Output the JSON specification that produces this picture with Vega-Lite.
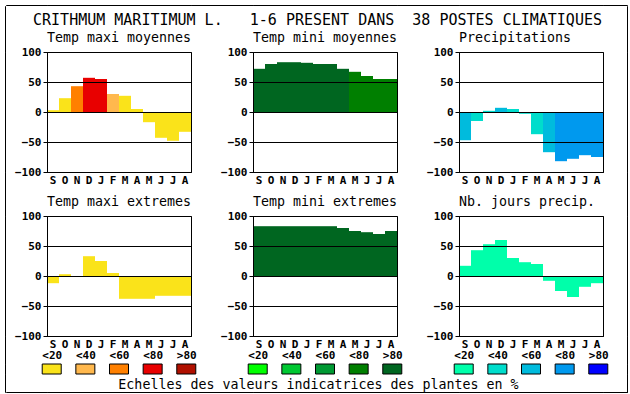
{
  "$schema": "https://vega.github.io/schema/vega-lite/v6.json",
  "background": "white",
  "padding": {"left": 4, "top": 4, "right": 4, "bottom": 3},
  "config": {
    "font": "DejaVu Sans Mono",
    "view": {"stroke": null},
    "axis": {
      "labelFont": "DejaVu Sans Mono",
      "labelFontWeight": "bold",
      "labelFontSize": 11,
      "labelColor": "black",
      "tickColor": "black",
      "domainColor": "black",
      "gridColor": "black",
      "gridOpacity": 1,
      "labelFlush": false,
      "labelOverlap": false
    },
    "title": {
      "font": "DejaVu Sans Mono",
      "fontSize": 13.3,
      "fontWeight": "normal",
      "color": "black",
      "anchor": "start",
      "frame": "group",
      "offset": 2
    }
  },
  "datasets": {
    "none": [],
    "bars": [
      {"p": "tmaxm", "m": "Sep", "v": 3, "c": "T1"},
      {"p": "tmaxm", "m": "Oct", "v": 23, "c": "T1"},
      {"p": "tmaxm", "m": "Nov", "v": 43, "c": "T3"},
      {"p": "tmaxm", "m": "Dec", "v": 57, "c": "T4"},
      {"p": "tmaxm", "m": "Jan", "v": 55, "c": "T4"},
      {"p": "tmaxm", "m": "Feb", "v": 30, "c": "T2"},
      {"p": "tmaxm", "m": "Mar", "v": 27, "c": "T1"},
      {"p": "tmaxm", "m": "Apr", "v": 5, "c": "T1"},
      {"p": "tmaxm", "m": "May", "v": -17, "c": "T1"},
      {"p": "tmaxm", "m": "Jun", "v": -43, "c": "T1"},
      {"p": "tmaxm", "m": "Jul", "v": -48, "c": "T1"},
      {"p": "tmaxm", "m": "Aug", "v": -33, "c": "T1"},
      {"p": "tminm", "m": "Sep", "v": 72, "c": "M5"},
      {"p": "tminm", "m": "Oct", "v": 80, "c": "M5"},
      {"p": "tminm", "m": "Nov", "v": 83, "c": "M5"},
      {"p": "tminm", "m": "Dec", "v": 83, "c": "M5"},
      {"p": "tminm", "m": "Jan", "v": 82, "c": "M5"},
      {"p": "tminm", "m": "Feb", "v": 80, "c": "M5"},
      {"p": "tminm", "m": "Mar", "v": 80, "c": "M5"},
      {"p": "tminm", "m": "Apr", "v": 72, "c": "M5"},
      {"p": "tminm", "m": "May", "v": 67, "c": "M4"},
      {"p": "tminm", "m": "Jun", "v": 60, "c": "M4"},
      {"p": "tminm", "m": "Jul", "v": 55, "c": "M4"},
      {"p": "tminm", "m": "Aug", "v": 55, "c": "M4"},
      {"p": "prec", "m": "Sep", "v": -47, "c": "P3"},
      {"p": "prec", "m": "Oct", "v": -15, "c": "P2"},
      {"p": "prec", "m": "Nov", "v": 2, "c": "P2"},
      {"p": "prec", "m": "Dec", "v": 7, "c": "P3"},
      {"p": "prec", "m": "Jan", "v": 5, "c": "P2"},
      {"p": "prec", "m": "Feb", "v": -3, "c": "P2"},
      {"p": "prec", "m": "Mar", "v": -37, "c": "P2"},
      {"p": "prec", "m": "Apr", "v": -67, "c": "P3"},
      {"p": "prec", "m": "May", "v": -82, "c": "P4"},
      {"p": "prec", "m": "Jun", "v": -78, "c": "P4"},
      {"p": "prec", "m": "Jul", "v": -72, "c": "P4"},
      {"p": "prec", "m": "Aug", "v": -75, "c": "P4"},
      {"p": "tmaxe", "m": "Sep", "v": -12, "c": "T1"},
      {"p": "tmaxe", "m": "Oct", "v": 3, "c": "T1"},
      {"p": "tmaxe", "m": "Nov", "v": 0, "c": "T1"},
      {"p": "tmaxe", "m": "Dec", "v": 33, "c": "T1"},
      {"p": "tmaxe", "m": "Jan", "v": 25, "c": "T1"},
      {"p": "tmaxe", "m": "Feb", "v": 5, "c": "T1"},
      {"p": "tmaxe", "m": "Mar", "v": -38, "c": "T1"},
      {"p": "tmaxe", "m": "Apr", "v": -38, "c": "T1"},
      {"p": "tmaxe", "m": "May", "v": -38, "c": "T1"},
      {"p": "tmaxe", "m": "Jun", "v": -33, "c": "T1"},
      {"p": "tmaxe", "m": "Jul", "v": -33, "c": "T1"},
      {"p": "tmaxe", "m": "Aug", "v": -33, "c": "T1"},
      {"p": "tmine", "m": "Sep", "v": 83, "c": "M5"},
      {"p": "tmine", "m": "Oct", "v": 83, "c": "M5"},
      {"p": "tmine", "m": "Nov", "v": 83, "c": "M5"},
      {"p": "tmine", "m": "Dec", "v": 83, "c": "M5"},
      {"p": "tmine", "m": "Jan", "v": 83, "c": "M5"},
      {"p": "tmine", "m": "Feb", "v": 83, "c": "M5"},
      {"p": "tmine", "m": "Mar", "v": 83, "c": "M5"},
      {"p": "tmine", "m": "Apr", "v": 80, "c": "M5"},
      {"p": "tmine", "m": "May", "v": 75, "c": "M5"},
      {"p": "tmine", "m": "Jun", "v": 73, "c": "M5"},
      {"p": "tmine", "m": "Jul", "v": 70, "c": "M5"},
      {"p": "tmine", "m": "Aug", "v": 75, "c": "M5"},
      {"p": "njp", "m": "Sep", "v": 17, "c": "P1"},
      {"p": "njp", "m": "Oct", "v": 43, "c": "P1"},
      {"p": "njp", "m": "Nov", "v": 53, "c": "P1"},
      {"p": "njp", "m": "Dec", "v": 60, "c": "P1"},
      {"p": "njp", "m": "Jan", "v": 30, "c": "P1"},
      {"p": "njp", "m": "Feb", "v": 23, "c": "P1"},
      {"p": "njp", "m": "Mar", "v": 20, "c": "P1"},
      {"p": "njp", "m": "Apr", "v": -8, "c": "P1"},
      {"p": "njp", "m": "May", "v": -25, "c": "P1"},
      {"p": "njp", "m": "Jun", "v": -35, "c": "P1"},
      {"p": "njp", "m": "Jul", "v": -18, "c": "P1"},
      {"p": "njp", "m": "Aug", "v": -12, "c": "P1"}
    ],
    "leg": [
      {"g": "T", "lab": "<20", "c": "T1"},
      {"g": "T", "lab": "<40", "c": "T2"},
      {"g": "T", "lab": "<60", "c": "T3"},
      {"g": "T", "lab": "<80", "c": "T4"},
      {"g": "T", "lab": ">80", "c": "T5"},
      {"g": "M", "lab": "<20", "c": "M1"},
      {"g": "M", "lab": "<40", "c": "M2"},
      {"g": "M", "lab": "<60", "c": "M3"},
      {"g": "M", "lab": "<80", "c": "M4"},
      {"g": "M", "lab": ">80", "c": "M5"},
      {"g": "P", "lab": "<20", "c": "P1"},
      {"g": "P", "lab": "<40", "c": "P2"},
      {"g": "P", "lab": "<60", "c": "P3"},
      {"g": "P", "lab": "<80", "c": "P4"},
      {"g": "P", "lab": ">80", "c": "P5"}
    ]
  },
  "columns": 9,
  "spacing": 0,
  "bounds": "flush",
  "align": "each",
  "center": false,
  "concat": [
    {"width": 0.001, "height": 0.001, "data": {"name": "none"}, "mark": "point", "view": {"stroke": "black"}},
    {"width": 41, "height": 0.001, "data": {"name": "none"}, "mark": "point", "view": {"stroke": "black"}},
    {"width": 144, "height": 0.001, "data": {"name": "none"}, "mark": "point", "view": {"stroke": "black"}},
    {"width": 62, "height": 0.001, "data": {"name": "none"}, "mark": "point", "view": {"stroke": "black"}},
    {"width": 144, "height": 0.001, "data": {"name": "none"}, "mark": "point", "view": {"stroke": "black"},
     "title": {"text": "CRITHMUM MARITIMUM L.\u00a0\u00a0\u00a01-6 PRESENT DANS\u00a0\u00a038 POSTES CLIMATIQUES", "orient": "bottom", "anchor": "middle", "fontSize": 15, "offset": 8, "dx": -7.5}},
    {"width": 62, "height": 0.001, "data": {"name": "none"}, "mark": "point", "view": {"stroke": "black"}},
    {"width": 144, "height": 0.001, "data": {"name": "none"}, "mark": "point", "view": {"stroke": "black"}},
    {"width": 24, "height": 0.001, "data": {"name": "none"}, "mark": "point", "view": {"stroke": "black"}},
    {"width": 0.001, "height": 0.001, "data": {"name": "none"}, "mark": "point", "view": {"stroke": "black"}},

    {"width": 0.001, "height": 46, "data": {"name": "none"}, "mark": "point", "view": {"stroke": "black"}},
    {"width": 1, "height": 1, "data": {"name": "none"}, "mark": "point"},
    {"width": 1, "height": 1, "data": {"name": "none"}, "mark": "point"},
    {"width": 1, "height": 1, "data": {"name": "none"}, "mark": "point"},
    {"width": 1, "height": 1, "data": {"name": "none"}, "mark": "point"},
    {"width": 1, "height": 1, "data": {"name": "none"}, "mark": "point"},
    {"width": 1, "height": 1, "data": {"name": "none"}, "mark": "point"},
    {"width": 1, "height": 1, "data": {"name": "none"}, "mark": "point"},
    {"width": 0.001, "height": 46, "data": {"name": "none"}, "mark": "point", "view": {"stroke": "black"}},

    {"width": 0.001, "height": 120, "data": {"name": "none"}, "mark": "point", "view": {"stroke": "black"}},
    {"width": 1, "height": 1, "data": {"name": "none"}, "mark": "point"},
    {
      "width": 144, "height": 120,
      "title": {"text": "Temp maxi moyennes"},
      "view": {"stroke": "black"},
      "data": {"name": "bars"},
      "transform": [{"filter": "datum.p === 'tmaxm'"}],
      "mark": {"type": "bar"},
      "encoding": {
        "x": {"field": "m", "type": "nominal", "scale": {"domain": ["Sep","Oct","Nov","Dec","Jan","Feb","Mar","Apr","May","Jun","Jul","Aug"], "paddingInner": 0, "paddingOuter": 0}, "axis": {"orient": "bottom", "ticks": false, "domain": true, "labelAngle": 0, "labelPadding": 2, "labelExpr": "substring(datum.label,0,1)", "title": null, "zindex": 1}},
        "y": {"field": "v", "type": "quantitative", "scale": {"domain": [-100, 100], "nice": false}, "axis": {"values": [-100,-50,0,50,100], "tickSize": 4, "grid": true, "domain": true, "labelPadding": 2, "title": null, "zindex": 1}},
        "color": {"field": "c", "type": "nominal", "scale": {"domain": ["T1","T2","T3","T4","T5","M1","M2","M3","M4","M5","P1","P2","P3","P4","P5"], "range": ["#fae31a","#ffb84d","#ff8000","#e80000","#b01000","#00ff00","#00c832","#009933","#007f00","#006620","#00ffaa","#00ddcc","#00bbdd","#0099ee","#0000ff"]}, "legend": null}
      }
    },
    {"width": 1, "height": 1, "data": {"name": "none"}, "mark": "point"},
    {
      "width": 144, "height": 120,
      "title": {"text": "Temp mini moyennes"},
      "view": {"stroke": "black"},
      "data": {"name": "bars"},
      "transform": [{"filter": "datum.p === 'tminm'"}],
      "mark": {"type": "bar"},
      "encoding": {
        "x": {"field": "m", "type": "nominal", "scale": {"domain": ["Sep","Oct","Nov","Dec","Jan","Feb","Mar","Apr","May","Jun","Jul","Aug"], "paddingInner": 0, "paddingOuter": 0}, "axis": {"orient": "bottom", "ticks": false, "domain": true, "labelAngle": 0, "labelPadding": 2, "labelExpr": "substring(datum.label,0,1)", "title": null, "zindex": 1}},
        "y": {"field": "v", "type": "quantitative", "scale": {"domain": [-100, 100], "nice": false}, "axis": {"values": [-100,-50,0,50,100], "tickSize": 4, "grid": true, "domain": true, "labelPadding": 2, "title": null, "zindex": 1}},
        "color": {"field": "c", "type": "nominal", "scale": {"domain": ["T1","T2","T3","T4","T5","M1","M2","M3","M4","M5","P1","P2","P3","P4","P5"], "range": ["#fae31a","#ffb84d","#ff8000","#e80000","#b01000","#00ff00","#00c832","#009933","#007f00","#006620","#00ffaa","#00ddcc","#00bbdd","#0099ee","#0000ff"]}, "legend": null}
      }
    },
    {"width": 1, "height": 1, "data": {"name": "none"}, "mark": "point"},
    {
      "width": 144, "height": 120,
      "title": {"text": "Precipitations"},
      "view": {"stroke": "black"},
      "data": {"name": "bars"},
      "transform": [{"filter": "datum.p === 'prec'"}],
      "mark": {"type": "bar"},
      "encoding": {
        "x": {"field": "m", "type": "nominal", "scale": {"domain": ["Sep","Oct","Nov","Dec","Jan","Feb","Mar","Apr","May","Jun","Jul","Aug"], "paddingInner": 0, "paddingOuter": 0}, "axis": {"orient": "bottom", "ticks": false, "domain": true, "labelAngle": 0, "labelPadding": 2, "labelExpr": "substring(datum.label,0,1)", "title": null, "zindex": 1}},
        "y": {"field": "v", "type": "quantitative", "scale": {"domain": [-100, 100], "nice": false}, "axis": {"values": [-100,-50,0,50,100], "tickSize": 4, "grid": true, "domain": true, "labelPadding": 2, "title": null, "zindex": 1}},
        "color": {"field": "c", "type": "nominal", "scale": {"domain": ["T1","T2","T3","T4","T5","M1","M2","M3","M4","M5","P1","P2","P3","P4","P5"], "range": ["#fae31a","#ffb84d","#ff8000","#e80000","#b01000","#00ff00","#00c832","#009933","#007f00","#006620","#00ffaa","#00ddcc","#00bbdd","#0099ee","#0000ff"]}, "legend": null}
      }
    },
    {"width": 1, "height": 1, "data": {"name": "none"}, "mark": "point"},
    {"width": 0.001, "height": 120, "data": {"name": "none"}, "mark": "point", "view": {"stroke": "black"}},

    {"width": 0.001, "height": 44, "data": {"name": "none"}, "mark": "point", "view": {"stroke": "black"}},
    {"width": 1, "height": 1, "data": {"name": "none"}, "mark": "point"},
    {"width": 1, "height": 1, "data": {"name": "none"}, "mark": "point"},
    {"width": 1, "height": 1, "data": {"name": "none"}, "mark": "point"},
    {"width": 1, "height": 1, "data": {"name": "none"}, "mark": "point"},
    {"width": 1, "height": 1, "data": {"name": "none"}, "mark": "point"},
    {"width": 1, "height": 1, "data": {"name": "none"}, "mark": "point"},
    {"width": 1, "height": 1, "data": {"name": "none"}, "mark": "point"},
    {"width": 0.001, "height": 44, "data": {"name": "none"}, "mark": "point", "view": {"stroke": "black"}},

    {"width": 0.001, "height": 120, "data": {"name": "none"}, "mark": "point", "view": {"stroke": "black"}},
    {"width": 1, "height": 1, "data": {"name": "none"}, "mark": "point"},
    {
      "width": 144, "height": 120,
      "title": {"text": "Temp maxi extremes"},
      "view": {"stroke": "black"},
      "data": {"name": "bars"},
      "transform": [{"filter": "datum.p === 'tmaxe'"}],
      "mark": {"type": "bar"},
      "encoding": {
        "x": {"field": "m", "type": "nominal", "scale": {"domain": ["Sep","Oct","Nov","Dec","Jan","Feb","Mar","Apr","May","Jun","Jul","Aug"], "paddingInner": 0, "paddingOuter": 0}, "axis": {"orient": "bottom", "ticks": false, "domain": true, "labelAngle": 0, "labelPadding": 2, "labelExpr": "substring(datum.label,0,1)", "title": null, "zindex": 1}},
        "y": {"field": "v", "type": "quantitative", "scale": {"domain": [-100, 100], "nice": false}, "axis": {"values": [-100,-50,0,50,100], "tickSize": 4, "grid": true, "domain": true, "labelPadding": 2, "title": null, "zindex": 1}},
        "color": {"field": "c", "type": "nominal", "scale": {"domain": ["T1","T2","T3","T4","T5","M1","M2","M3","M4","M5","P1","P2","P3","P4","P5"], "range": ["#fae31a","#ffb84d","#ff8000","#e80000","#b01000","#00ff00","#00c832","#009933","#007f00","#006620","#00ffaa","#00ddcc","#00bbdd","#0099ee","#0000ff"]}, "legend": null}
      }
    },
    {"width": 1, "height": 1, "data": {"name": "none"}, "mark": "point"},
    {
      "width": 144, "height": 120,
      "title": {"text": "Temp mini extremes"},
      "view": {"stroke": "black"},
      "data": {"name": "bars"},
      "transform": [{"filter": "datum.p === 'tmine'"}],
      "mark": {"type": "bar"},
      "encoding": {
        "x": {"field": "m", "type": "nominal", "scale": {"domain": ["Sep","Oct","Nov","Dec","Jan","Feb","Mar","Apr","May","Jun","Jul","Aug"], "paddingInner": 0, "paddingOuter": 0}, "axis": {"orient": "bottom", "ticks": false, "domain": true, "labelAngle": 0, "labelPadding": 2, "labelExpr": "substring(datum.label,0,1)", "title": null, "zindex": 1}},
        "y": {"field": "v", "type": "quantitative", "scale": {"domain": [-100, 100], "nice": false}, "axis": {"values": [-100,-50,0,50,100], "tickSize": 4, "grid": true, "domain": true, "labelPadding": 2, "title": null, "zindex": 1}},
        "color": {"field": "c", "type": "nominal", "scale": {"domain": ["T1","T2","T3","T4","T5","M1","M2","M3","M4","M5","P1","P2","P3","P4","P5"], "range": ["#fae31a","#ffb84d","#ff8000","#e80000","#b01000","#00ff00","#00c832","#009933","#007f00","#006620","#00ffaa","#00ddcc","#00bbdd","#0099ee","#0000ff"]}, "legend": null}
      }
    },
    {"width": 1, "height": 1, "data": {"name": "none"}, "mark": "point"},
    {
      "width": 144, "height": 120,
      "title": {"text": "Nb. jours precip."},
      "view": {"stroke": "black"},
      "data": {"name": "bars"},
      "transform": [{"filter": "datum.p === 'njp'"}],
      "mark": {"type": "bar"},
      "encoding": {
        "x": {"field": "m", "type": "nominal", "scale": {"domain": ["Sep","Oct","Nov","Dec","Jan","Feb","Mar","Apr","May","Jun","Jul","Aug"], "paddingInner": 0, "paddingOuter": 0}, "axis": {"orient": "bottom", "ticks": false, "domain": true, "labelAngle": 0, "labelPadding": 2, "labelExpr": "substring(datum.label,0,1)", "title": null, "zindex": 1}},
        "y": {"field": "v", "type": "quantitative", "scale": {"domain": [-100, 100], "nice": false}, "axis": {"values": [-100,-50,0,50,100], "tickSize": 4, "grid": true, "domain": true, "labelPadding": 2, "title": null, "zindex": 1}},
        "color": {"field": "c", "type": "nominal", "scale": {"domain": ["T1","T2","T3","T4","T5","M1","M2","M3","M4","M5","P1","P2","P3","P4","P5"], "range": ["#fae31a","#ffb84d","#ff8000","#e80000","#b01000","#00ff00","#00c832","#009933","#007f00","#006620","#00ffaa","#00ddcc","#00bbdd","#0099ee","#0000ff"]}, "legend": null}
      }
    },
    {"width": 1, "height": 1, "data": {"name": "none"}, "mark": "point"},
    {"width": 0.001, "height": 120, "data": {"name": "none"}, "mark": "point", "view": {"stroke": "black"}},

    {"width": 0.001, "height": 28, "data": {"name": "none"}, "mark": "point", "view": {"stroke": "black"}},
    {"width": 1, "height": 1, "data": {"name": "none"}, "mark": "point"},
    {"width": 1, "height": 1, "data": {"name": "none"}, "mark": "point"},
    {"width": 1, "height": 1, "data": {"name": "none"}, "mark": "point"},
    {"width": 1, "height": 1, "data": {"name": "none"}, "mark": "point"},
    {"width": 1, "height": 1, "data": {"name": "none"}, "mark": "point"},
    {"width": 1, "height": 1, "data": {"name": "none"}, "mark": "point"},
    {"width": 1, "height": 1, "data": {"name": "none"}, "mark": "point"},
    {"width": 0.001, "height": 28, "data": {"name": "none"}, "mark": "point", "view": {"stroke": "black"}},

    {"width": 0.001, "height": 10, "data": {"name": "none"}, "mark": "point", "view": {"stroke": "black"}},
    {"width": 1, "height": 1, "data": {"name": "none"}, "mark": "point"},
    {
      "width": 144, "height": 10,
      "data": {"name": "leg"},
      "transform": [{"filter": "datum.g === 'T'"}],
      "mark": {"type": "bar", "width": 19, "stroke": "black", "strokeWidth": 1},
      "encoding": {
        "x": {"field": "lab", "type": "nominal", "scale": {"type": "point", "domain": ["<20","<40","<60","<80",">80"], "padding": 0.14}, "axis": {"orient": "top", "ticks": false, "domain": false, "labelAngle": 0, "labelPadding": 4, "title": null}},
        "color": {"field": "c", "type": "nominal", "scale": {"domain": ["T1","T2","T3","T4","T5","M1","M2","M3","M4","M5","P1","P2","P3","P4","P5"], "range": ["#fae31a","#ffb84d","#ff8000","#e80000","#b01000","#00ff00","#00c832","#009933","#007f00","#006620","#00ffaa","#00ddcc","#00bbdd","#0099ee","#0000ff"]}, "legend": null}
      }
    },
    {"width": 1, "height": 1, "data": {"name": "none"}, "mark": "point"},
    {
      "width": 144, "height": 10,
      "data": {"name": "leg"},
      "transform": [{"filter": "datum.g === 'M'"}],
      "mark": {"type": "bar", "width": 19, "stroke": "black", "strokeWidth": 1},
      "title": {"text": "Echelles des valeurs indicatrices des plantes en %", "orient": "bottom", "anchor": "middle", "dx": -6.5, "offset": 3},
      "encoding": {
        "x": {"field": "lab", "type": "nominal", "scale": {"type": "point", "domain": ["<20","<40","<60","<80",">80"], "padding": 0.14}, "axis": {"orient": "top", "ticks": false, "domain": false, "labelAngle": 0, "labelPadding": 4, "title": null}},
        "color": {"field": "c", "type": "nominal", "scale": {"domain": ["T1","T2","T3","T4","T5","M1","M2","M3","M4","M5","P1","P2","P3","P4","P5"], "range": ["#fae31a","#ffb84d","#ff8000","#e80000","#b01000","#00ff00","#00c832","#009933","#007f00","#006620","#00ffaa","#00ddcc","#00bbdd","#0099ee","#0000ff"]}, "legend": null}
      }
    },
    {"width": 1, "height": 1, "data": {"name": "none"}, "mark": "point"},
    {
      "width": 144, "height": 10,
      "data": {"name": "leg"},
      "transform": [{"filter": "datum.g === 'P'"}],
      "mark": {"type": "bar", "width": 19, "stroke": "black", "strokeWidth": 1},
      "encoding": {
        "x": {"field": "lab", "type": "nominal", "scale": {"type": "point", "domain": ["<20","<40","<60","<80",">80"], "padding": 0.14}, "axis": {"orient": "top", "ticks": false, "domain": false, "labelAngle": 0, "labelPadding": 4, "title": null}},
        "color": {"field": "c", "type": "nominal", "scale": {"domain": ["T1","T2","T3","T4","T5","M1","M2","M3","M4","M5","P1","P2","P3","P4","P5"], "range": ["#fae31a","#ffb84d","#ff8000","#e80000","#b01000","#00ff00","#00c832","#009933","#007f00","#006620","#00ffaa","#00ddcc","#00bbdd","#0099ee","#0000ff"]}, "legend": null}
      }
    },
    {"width": 1, "height": 1, "data": {"name": "none"}, "mark": "point"},
    {"width": 0.001, "height": 10, "data": {"name": "none"}, "mark": "point", "view": {"stroke": "black"}},

    {"width": 0.001, "height": 18, "data": {"name": "none"}, "mark": "point", "view": {"stroke": "black"}},
    {"width": 1, "height": 1, "data": {"name": "none"}, "mark": "point"},
    {"width": 1, "height": 1, "data": {"name": "none"}, "mark": "point"},
    {"width": 1, "height": 1, "data": {"name": "none"}, "mark": "point"},
    {"width": 1, "height": 1, "data": {"name": "none"}, "mark": "point"},
    {"width": 1, "height": 1, "data": {"name": "none"}, "mark": "point"},
    {"width": 1, "height": 1, "data": {"name": "none"}, "mark": "point"},
    {"width": 1, "height": 1, "data": {"name": "none"}, "mark": "point"},
    {"width": 0.001, "height": 18, "data": {"name": "none"}, "mark": "point", "view": {"stroke": "black"}},

    {"width": 0.001, "height": 0.001, "data": {"name": "none"}, "mark": "point", "view": {"stroke": "black"}},
    {"width": 41, "height": 0.001, "data": {"name": "none"}, "mark": "point", "view": {"stroke": "black"}},
    {"width": 144, "height": 0.001, "data": {"name": "none"}, "mark": "point", "view": {"stroke": "black"}},
    {"width": 62, "height": 0.001, "data": {"name": "none"}, "mark": "point", "view": {"stroke": "black"}},
    {"width": 144, "height": 0.001, "data": {"name": "none"}, "mark": "point", "view": {"stroke": "black"}},
    {"width": 62, "height": 0.001, "data": {"name": "none"}, "mark": "point", "view": {"stroke": "black"}},
    {"width": 144, "height": 0.001, "data": {"name": "none"}, "mark": "point", "view": {"stroke": "black"}},
    {"width": 24, "height": 0.001, "data": {"name": "none"}, "mark": "point", "view": {"stroke": "black"}},
    {"width": 0.001, "height": 0.001, "data": {"name": "none"}, "mark": "point", "view": {"stroke": "black"}}
  ]
}
